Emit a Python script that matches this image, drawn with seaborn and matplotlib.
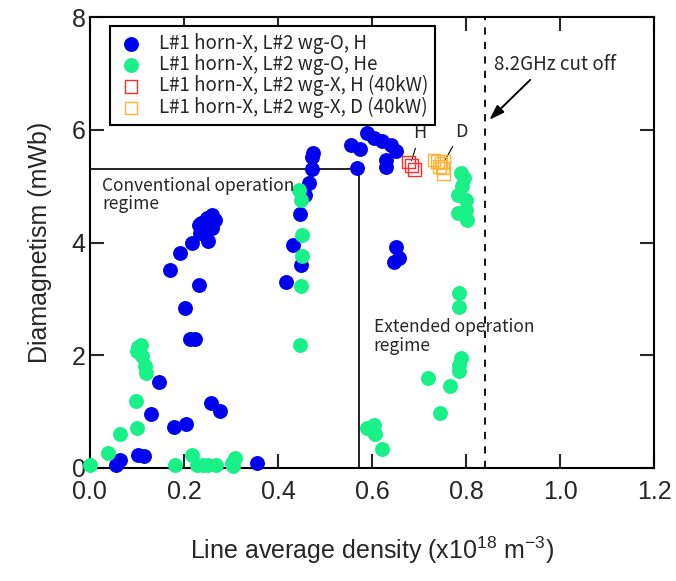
import numpy as np
import pandas as pd
import matplotlib
matplotlib.use("Agg")
import matplotlib.pyplot as plt
import seaborn as sns

# ---------------------------------------------------------------------------
# Data
# ---------------------------------------------------------------------------

h_density = [0.055, 0.064, 0.102, 0.114, 0.129, 0.147, 0.179, 0.205, 0.257, 0.277,
             0.213, 0.224, 0.203, 0.231, 0.171, 0.192, 0.218, 0.252, 0.234, 0.259,
             0.231, 0.237, 0.249, 0.259, 0.266, 0.355, 0.416, 0.432, 0.449, 0.446,
             0.458, 0.466, 0.473, 0.472, 0.475, 0.554, 0.567, 0.574, 0.590, 0.604,
             0.622, 0.640, 0.650, 0.629, 0.629, 0.650, 0.647, 0.657]
h_diamag = [0.04, 0.14, 0.23, 0.20, 0.95, 1.52, 0.73, 0.78, 1.15, 1.01,
            2.29, 2.29, 2.84, 3.25, 3.52, 3.81, 3.99, 4.02, 4.17, 4.26,
            4.32, 4.35, 4.43, 4.49, 4.40, 0.08, 3.30, 3.96, 3.61, 4.51,
            4.85, 5.06, 5.31, 5.52, 5.59, 5.74, 5.32, 5.66, 5.94, 5.85,
            5.80, 5.74, 5.62, 5.47, 5.35, 3.93, 3.66, 3.72]

he_density = [0.000, 0.039, 0.064, 0.101, 0.097, 0.103, 0.109, 0.100, 0.110, 0.117,
              0.119, 0.180, 0.218, 0.227, 0.240, 0.250, 0.267, 0.302, 0.309, 0.305,
              0.444, 0.448, 0.451, 0.451, 0.448, 0.446, 0.590, 0.604, 0.606, 0.620,
              0.789, 0.796, 0.792, 0.782, 0.800, 0.800, 0.782, 0.802, 0.785, 0.784,
              0.788, 0.785, 0.785, 0.718, 0.766, 0.745]
he_diamag = [0.04, 0.26, 0.60, 0.70, 1.18, 2.15, 2.18, 2.07, 1.98, 1.80,
             1.69, 0.04, 0.23, 0.05, 0.04, 0.05, 0.05, 0.08, 0.17, 0.03,
             4.94, 4.76, 4.14, 3.77, 3.22, 2.18, 0.70, 0.76, 0.59, 0.33,
             5.23, 5.15, 5.00, 4.85, 4.76, 4.58, 4.52, 4.40, 3.10, 2.85,
             1.95, 1.83, 1.71, 1.59, 1.46, 0.98]

hx_density = [0.677, 0.684, 0.690]
hx_diamag = [5.43, 5.37, 5.30]

dx_density = [0.732, 0.739, 0.746, 0.753, 0.743, 0.750, 0.752]
dx_diamag = [5.47, 5.44, 5.41, 5.44, 5.35, 5.32, 5.22]

series_labels = [
    "L#1 horn-X, L#2 wg-O, H",
    "L#1 horn-X, L#2 wg-O, He",
    "L#1 horn-X, L#2 wg-X, H (40kW)",
    "L#1 horn-X, L#2 wg-X, D (40kW)",
]

regime_density = 0.573   # boundary of the conventional regime
regime_diamag = 5.3
cutoff_density = 0.84    # 8.2 GHz cut off

# ---------------------------------------------------------------------------
# Plot
# ---------------------------------------------------------------------------

sns.set_style("ticks")
plt.rcParams["font.family"] = ["Liberation Sans", "DejaVu Sans"]
plt.rcParams["mathtext.default"] = "regular"
jp_font = ["Noto Sans CJK JP", "DejaVu Sans"]

fig, ax = plt.subplots(figsize=(6.76, 5.81), dpi=100)
fig.subplots_adjust(left=0.133, right=0.968, top=0.970, bottom=0.195)

df_h = pd.DataFrame({"density": h_density, "diamag": h_diamag})
df_he = pd.DataFrame({"density": he_density, "diamag": he_diamag})
df_hx = pd.DataFrame({"density": hx_density, "diamag": hx_diamag})
df_dx = pd.DataFrame({"density": dx_density, "diamag": dx_diamag})

sns.scatterplot(data=df_h, x="density", y="diamag", ax=ax, color="#0000f0",
                s=115, linewidth=0, label=series_labels[0], clip_on=False, zorder=3)
sns.scatterplot(data=df_he, x="density", y="diamag", ax=ax, color="#18f088",
                s=115, linewidth=0, label=series_labels[1], clip_on=False, zorder=3)
sns.scatterplot(data=df_hx, x="density", y="diamag", ax=ax, marker="s",
                facecolor="none", edgecolor="#ff2a2a", s=80, linewidth=1.0,
                label=series_labels[2], zorder=4)
sns.scatterplot(data=df_dx, x="density", y="diamag", ax=ax, marker="s",
                facecolor="none", edgecolor="#ffb23a", s=80, linewidth=1.0,
                label=series_labels[3], zorder=4)

# regime boundaries
ax.plot([0, regime_density], [regime_diamag, regime_diamag], color="black", lw=1.2, zorder=2)
ax.plot([regime_density, regime_density], [regime_diamag, 0], color="black", lw=1.2, zorder=2)
ax.axvline(cutoff_density, color="black", lw=1.3, ls=(0, (4, 4)), zorder=2)

ax.text(0.026, 5.17, "Conventional operation\nregime", fontsize=12.5, family=jp_font,
        ha="left", va="top", linespacing=1.05)
ax.text(0.603, 2.66, "Extended operation\nregime", fontsize=12.5, family=jp_font,
        ha="left", va="top", linespacing=1.05)

ax.annotate("H", xy=(0.682, 5.41), xytext=(0.702, 5.94), fontsize=13, family=jp_font,
            ha="center", va="center", arrowprops=dict(arrowstyle="-", lw=0.8, color="black"))
ax.annotate("D", xy=(0.752, 5.42), xytext=(0.789, 5.97), fontsize=13, family=jp_font,
            ha="center", va="center", arrowprops=dict(arrowstyle="-", lw=0.8, color="black"))

ax.text(0.86, 7.16, "8.2GHz cut off", fontsize=13.5, family=jp_font, ha="left", va="center")
ax.annotate("", xy=(0.849, 6.18), xytext=(0.936, 6.89),
            arrowprops=dict(arrowstyle="-|>,head_length=0.9,head_width=0.3",
                            lw=1.4, color="black", shrinkA=0, shrinkB=0))

ax.set_xlim(0, 1.2)
ax.set_ylim(0, 8)
ax.set_xticks(np.arange(0, 1.21, 0.2))
ax.set_xticklabels([f"{v:.1f}" for v in np.arange(0, 1.21, 0.2)])
ax.set_yticks([0, 2, 4, 6, 8])

ax.set_xlabel("Line average density (x10$^{18}$ m$^{-3}$)", fontsize=18, labelpad=22)
ax.set_ylabel("Diamagnetism (mWb)", fontsize=18, labelpad=14)
ax.tick_params(direction="in", length=10, width=1.5, labelsize=18, top=True, right=True)
ax.tick_params(axis="x", pad=9)
ax.tick_params(axis="y", pad=3)
for spine in ax.spines.values():
    spine.set_linewidth(1.5)
    spine.set_color("black")

leg = ax.legend(loc="upper left", bbox_to_anchor=(0.035, 0.981), borderaxespad=0,
                frameon=True, fancybox=False, framealpha=1, edgecolor="black",
                prop={"family": jp_font, "size": 13.5}, labelspacing=0.02,
                handletextpad=0.7, borderpad=0.35, handlelength=1.6)
leg.get_frame().set_linewidth(1.5)

fig.savefig("out.png", dpi=100)
